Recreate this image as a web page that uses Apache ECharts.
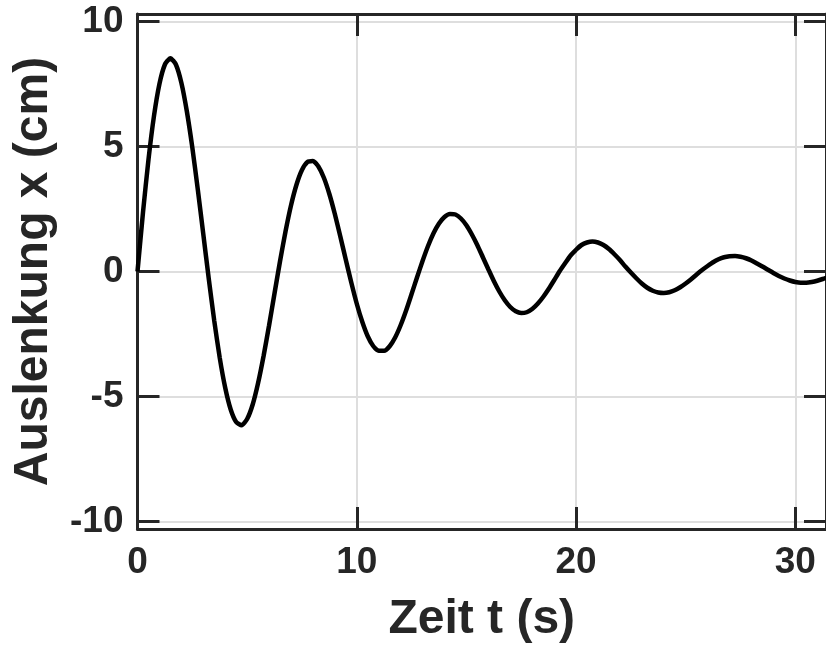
<!DOCTYPE html>
<html>
<head>
<meta charset="utf-8">
<title>Auslenkung</title>
<script src="https://cdn.jsdelivr.net/npm/echarts@6/dist/echarts.min.js"></script>
<style>
    html, body { margin: 0; padding: 0; background: #fff; }
    #chart { width: 826px; height: 649px; }
</style>
</head>
<body>
<div id="chart"></div>
<script>
    const zeit = [0, 0.25, 0.5, 0.75, 1, 1.25, 1.5, 1.75, 2, 2.25, 2.5, 2.75, 3, 3.25, 3.5, 3.75,
        4, 4.25, 4.5, 4.75, 5, 5.25, 5.5, 5.75, 6, 6.25, 6.5, 6.75, 7, 7.25, 7.5, 7.75,
        8, 8.25, 8.5, 8.75, 9, 9.25, 9.5, 9.75, 10, 10.25, 10.5, 10.75, 11, 11.25, 11.5, 11.75,
        12, 12.25, 12.5, 12.75, 13, 13.25, 13.5, 13.75, 14, 14.25, 14.5, 14.75, 15, 15.25, 15.5, 15.75,
        16, 16.25, 16.5, 16.75, 17, 17.25, 17.5, 17.75, 18, 18.25, 18.5, 18.75, 19, 19.25, 19.5, 19.75,
        20, 20.25, 20.5, 20.75, 21, 21.25, 21.5, 21.75, 22, 22.25, 22.5, 22.75, 23, 23.25, 23.5, 23.75,
        24, 24.25, 24.5, 24.75, 25, 25.25, 25.5, 25.75, 26, 26.25, 26.5, 26.75, 27, 27.25, 27.5, 27.75,
        28, 28.25, 28.5, 28.75, 29, 29.25, 29.5, 29.75, 30, 30.25, 30.5, 30.75, 31, 31.25, 31.5];
    const auslenkung = [0, 2.36, 4.47, 6.21, 7.50, 8.28, 8.53, 8.28, 7.55, 6.41, 4.96, 3.28, 1.50, -0.29, -1.97, -3.45,
        -4.65, -5.52, -6.02, -6.15, -5.90, -5.33, -4.46, -3.38, -2.16, -0.87, 0.41, 1.60, 2.64, 3.47, 4.06, 4.38,
        4.42, 4.20, 3.75, 3.10, 2.30, 1.40, 0.47, -0.44, -1.29, -2.01, -2.59, -2.98, -3.17, -3.17, -2.99, -2.64,
        -2.15, -1.56, -0.90, -0.23, 0.42, 1.02, 1.53, 1.92, 2.18, 2.30, 2.28, 2.12, 1.85, 1.48, 1.05, 0.57,
        0.09, -0.38, -0.80, -1.15, -1.42, -1.59, -1.66, -1.63, -1.50, -1.29, -1.02, -0.70, -0.35, 0.01, 0.33, 0.64,
        0.87, 1.06, 1.16, 1.20, 1.16, 1.06, 0.90, 0.69, 0.46, 0.20, -0.04, -0.27, -0.48, -0.65, -0.77, -0.84,
        -0.86, -0.83, -0.75, -0.63, -0.48, -0.31, -0.12, 0.06, 0.22, 0.37, 0.49, 0.57, 0.61, 0.62, 0.59, 0.53,
        0.44, 0.32, 0.20, 0.07, -0.06, -0.18, -0.28, -0.36, -0.42, -0.45, -0.45, -0.42, -0.37, -0.30, -0.22];

    const xBereich = [0, 31.4];
    const yBereich = [-10.3, 10.3];

    const dunkel = '#262626';
    const schrift = 'Liberation Sans, Arial, Helvetica, sans-serif';

    const chart = echarts.init(document.getElementById('chart'), null, { renderer: 'canvas' });

    const achsenLinie = { show: true, onZero: false, lineStyle: { color: dunkel, width: 3 } };
    const achsenTick = { show: true, inside: true, length: 22, lineStyle: { color: dunkel, width: 3 } };
    const gitter = { show: true, lineStyle: { color: '#dedede', width: 2 } };

    chart.setOption({
        animation: false,
        backgroundColor: '#ffffff',
        grid: { left: 137.5, top: 14, width: 694.5, height: 518 },
        xAxis: [{
            type: 'value',
            position: 'bottom',
            min: xBereich[0],
            max: xBereich[1],
            interval: 10,
            name: 'Zeit t (s)',
            nameLocation: 'middle',
            nameGap: 67,
            nameTextStyle: { color: dunkel, fontSize: 48, fontWeight: 'bold', fontFamily: schrift },
            axisLine: achsenLinie,
            axisTick: achsenTick,
            splitLine: gitter,
            axisLabel: {
                color: dunkel, fontSize: 37, fontWeight: 'bold', fontFamily: schrift,
                margin: 15, showMaxLabel: false
            }
        }, {
            type: 'value',
            position: 'top',
            min: xBereich[0],
            max: xBereich[1],
            interval: 10,
            axisLine: achsenLinie,
            axisTick: achsenTick,
            splitLine: { show: false },
            axisLabel: { show: false }
        }],
        yAxis: [{
            type: 'value',
            position: 'left',
            min: yBereich[0],
            max: yBereich[1],
            splitNumber: 4,
            name: 'Auslenkung x (cm)',
            nameLocation: 'middle',
            nameGap: 80,
            nameTextStyle: { color: dunkel, fontSize: 48, fontWeight: 'bold', fontFamily: schrift },
            axisLine: achsenLinie,
            axisTick: achsenTick,
            splitLine: gitter,
            axisLabel: {
                color: dunkel, fontSize: 37, fontWeight: 'bold', fontFamily: schrift,
                margin: 14, showMinLabel: false, showMaxLabel: false
            }
        }, {
            type: 'value',
            position: 'right',
            min: yBereich[0],
            max: yBereich[1],
            splitNumber: 4,
            axisLine: achsenLinie,
            axisTick: achsenTick,
            splitLine: { show: false },
            axisLabel: { show: false }
        }],
        series: [{
            type: 'line',
            data: zeit.map((t, i) => [t, auslenkung[i]]),
            smooth: 0.2,
            showSymbol: false,
            clip: true,
            lineStyle: { color: '#000000', width: 4.5 },
            z: 1
        }]
    });
</script>
</body>
</html>
